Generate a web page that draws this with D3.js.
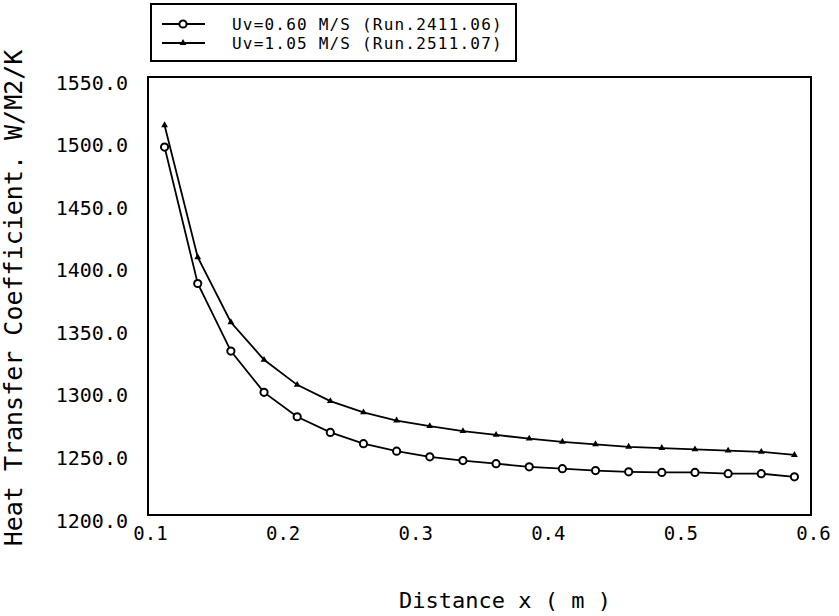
<!DOCTYPE html>
<html>
<head>
<meta charset="utf-8">
<script src="https://cdn.jsdelivr.net/npm/d3@7/dist/d3.min.js"></script>
<style>
  html, body { margin: 0; padding: 0; background: #fff; }
  svg { display: block; }
  text { font-family: "DejaVu Sans Mono", "Liberation Mono", monospace; fill: #000; }
</style>
</head>
<body>
<svg id="chart" width="839" height="616"></svg>
<script>
// ---- data ----
const xValues = [0.1125, 0.1375, 0.1625, 0.1875, 0.2125, 0.2375, 0.2625, 0.2875, 0.3125, 0.3375,
                 0.3625, 0.3875, 0.4125, 0.4375, 0.4625, 0.4875, 0.5125, 0.5375, 0.5625, 0.5875];
const run0606 = [1494, 1385, 1331, 1298, 1278.5, 1266, 1257, 1251, 1246.5, 1243.5,
                 1241, 1238.5, 1237, 1235.5, 1234.5, 1234, 1234, 1233, 1233, 1230.5];
const run1057 = [1511.5, 1406, 1354, 1324, 1304, 1291, 1282, 1275.5, 1271, 1267,
                 1264, 1261, 1258.5, 1256.5, 1254.5, 1253.5, 1252.5, 1251.5, 1250.5, 1248];
const seriesNames = ["Uv=0.60 M/S (Run.2411.06)", "Uv=1.05 M/S (Run.2511.07)"];
const xTicks = [0.1, 0.2, 0.3, 0.4, 0.5, 0.6];
const yTicks = [1200, 1250, 1300, 1350, 1400, 1450, 1500, 1550];
const xTitle = "Distance x ( m )";
const yTitle = "Heat Transfer Coefficient. W/M2/K";

const svg = d3.select("#chart");
const x = d3.scaleLinear().domain([0.1, 0.6]).range([148, 811]);
const y = d3.scaleLinear().domain([1200, 1550]).range([515, 77]);

// frame
svg.append("rect")
  .attr("x", x(0.1)).attr("y", y(1550))
  .attr("width", x(0.6) - x(0.1)).attr("height", y(1200) - y(1550))
  .attr("fill", "none").attr("stroke", "#000").attr("stroke-width", 2);

// axes (labels only)
const yAxis = d3.axisLeft(y).tickValues(yTicks).tickFormat(d3.format(".1f")).tickSize(0).tickPadding(20);
const gy = svg.append("g").attr("transform", `translate(${x(0.1)},0)`).call(yAxis);
gy.select(".domain").remove();
gy.selectAll("text").attr("font-size", 20).attr("dy", "0.6em")
  .style("font-family", '"DejaVu Sans Mono", monospace');

const xAxis = d3.axisBottom(x).tickValues(xTicks).tickFormat(d3.format(".1f")).tickSize(0).tickPadding(12);
const gx = svg.append("g").attr("transform", `translate(2,${y(1200)})`).call(xAxis);
gx.select(".domain").remove();
gx.selectAll("text").attr("font-size", 19)
  .style("font-family", '"DejaVu Sans Mono", monospace');

// titles
svg.append("text").attr("x", 505).attr("y", 608).attr("text-anchor", "middle")
  .attr("font-size", 22).text(xTitle);
svg.append("text").attr("transform", "translate(22,298) rotate(-90)")
  .attr("text-anchor", "middle").attr("font-size", 25).text(yTitle);

// lines
const line = d3.line().x((d, i) => x(xValues[i])).y(d => y(d));
svg.append("path").datum(run0606).attr("d", line)
  .attr("fill", "none").attr("stroke", "#000").attr("stroke-width", 1.8);
svg.append("path").datum(run1057).attr("d", line)
  .attr("fill", "none").attr("stroke", "#000").attr("stroke-width", 1.8);

// markers
svg.append("g").selectAll("circle").data(run0606).join("circle")
  .attr("cx", (d, i) => x(xValues[i])).attr("cy", d => y(d)).attr("r", 3.6)
  .attr("fill", "#fff").attr("stroke", "#000").attr("stroke-width", 2);
const tri = d3.symbol().type(d3.symbolTriangle).size(20);
svg.append("g").selectAll("path").data(run1057).join("path")
  .attr("transform", (d, i) => `translate(${x(xValues[i])},${y(d)})`)
  .attr("d", tri).attr("fill", "#000");

// legend
const lg = svg.append("g");
lg.append("rect").attr("x", 151).attr("y", 4).attr("width", 365).attr("height", 57)
  .attr("fill", "none").attr("stroke", "#000").attr("stroke-width", 2);
const rows = [24, 43];
seriesNames.forEach((name, i) => {
  lg.append("line").attr("x1", 162).attr("x2", 205).attr("y1", rows[i]).attr("y2", rows[i])
    .attr("stroke", "#000").attr("stroke-width", 1.8);
  if (i === 0) {
    lg.append("circle").attr("cx", 183).attr("cy", rows[i]).attr("r", 3.6)
      .attr("fill", "#fff").attr("stroke", "#000").attr("stroke-width", 2);
  } else {
    lg.append("path").attr("transform", `translate(183,${rows[i]})`).attr("d", tri).attr("fill", "#000");
  }
  lg.append("text").attr("x", 232).attr("y", rows[i]).attr("dy", "0.36em")
    .attr("font-size", 16).attr("letter-spacing", 1.2).text(name);
});
</script>
</body>
</html>
